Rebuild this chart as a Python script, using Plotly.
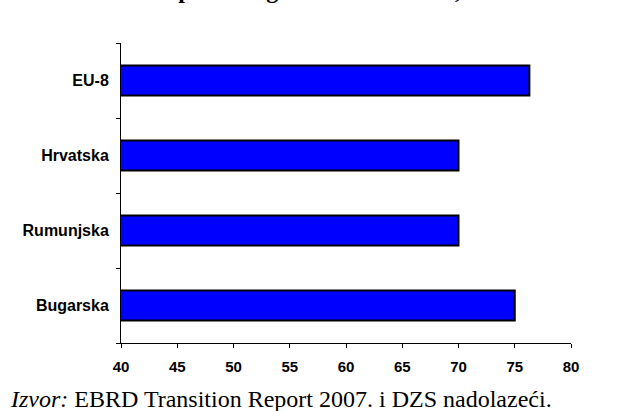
import plotly.graph_objects as go

categories = ["Bugarska", "Rumunjska", "Hrvatska", "EU-8"]
values = [75.0, 70.0, 70.0, 76.3]
x_ticks = [40, 45, 50, 55, 60, 65, 70, 75, 80]
title_text = "Udio privatnog sektora u BDP-u, 2007."
source_text = "<i>Izvor:</i> EBRD Transition Report 2007. i DZS nadolazeći."

fig = go.Figure()
fig.add_trace(go.Bar(
    y=categories,
    x=values,
    base=0,
    orientation="h",
    marker=dict(color="#0000FF", line=dict(color="black", width=2)),
    width=0.4,
))

fig.update_layout(
    width=632,
    height=411,
    margin=dict(l=121, r=61, t=43, b=68),
    paper_bgcolor="white",
    plot_bgcolor="white",
    showlegend=False,
    xaxis=dict(
        range=[40, 80],
        tickvals=x_ticks,
        ticks="outside",
        ticklen=4,
        tickcolor="black",
        showline=True,
        linecolor="black",
        linewidth=1,
        showgrid=False,
        zeroline=False,
        tickfont=dict(family="Liberation Sans", size=15, color="black", weight="bold"),
        ticklabelstandoff=6,
    ),
    yaxis=dict(
        categoryorder="array",
        categoryarray=categories,
        ticks="outside",
        tickson="boundaries",
        ticklen=4,
        tickcolor="black",
        showline=True,
        linecolor="black",
        linewidth=1,
        showgrid=False,
        zeroline=False,
        tickfont=dict(family="Liberation Sans", size=16, color="black", weight="bold"),
        ticklabelstandoff=8,
    ),
    annotations=[
        dict(
            text=title_text, xref="paper", yref="paper",
            x=0.0, y=1.176, xanchor="left", yanchor="middle",
            showarrow=False,
            font=dict(family="Liberation Serif", size=24, color="black", weight="bold"),
        ),
        dict(
            text=source_text, xref="paper", yref="paper",
            x=-0.252, y=-0.185, xanchor="left", yanchor="middle",
            showarrow=False,
            font=dict(family="Liberation Serif", size=24, color="black"),
        ),
    ],
)

fig.write_html(
    "out.html",
    config={"displayModeBar": False},
    post_script="document.body.style.margin='0px';",
)
